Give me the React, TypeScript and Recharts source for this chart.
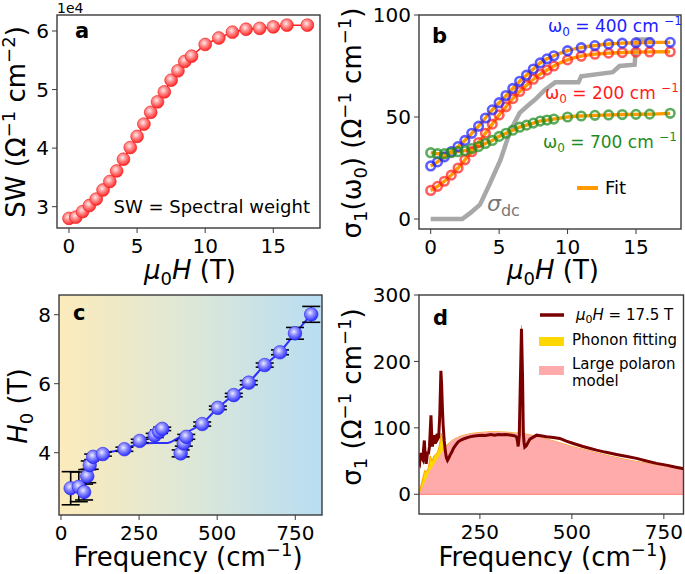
import React from "react";
import {
  ComposedChart,
  Line,
  Scatter,
  Area,
  XAxis,
  YAxis,
  ErrorBar,
  ReferenceArea,
  ReferenceLine,
} from "recharts";

const FONT = "'DejaVu Sans', sans-serif";

// panel a / b : magnetic field (T)
const fieldT = [0, 0.5, 1, 1.5, 2, 2.5, 3, 3.5, 4, 4.5, 5, 5.5, 6, 6.5, 7, 7.5, 8, 8.5, 9, 10, 11, 12, 13, 14, 15, 16, 17.5];
const spectralWeight = [2.8, 2.82, 2.915, 3.02, 3.13, 3.285, 3.43, 3.61, 3.81, 4.01, 4.2, 4.41, 4.61, 4.79, 4.96, 5.16, 5.32, 5.48, 5.57, 5.77, 5.88, 5.98, 6.03, 6.045, 6.07, 6.1, 6.1];

const sigma400 = [26, 28, 30.5, 33, 35.5, 38.5, 42, 45.5, 49.5, 53.5, 57, 60.5, 64, 67.5, 70.5, 73.5, 76.5, 78.5, 80, 82.5, 84, 85, 85.8, 86.2, 86.4, 86.5, 86.6];
const sigma200 = [14, 16, 18.5, 21.5, 25, 29, 33, 37.5, 42, 46.5, 51, 55, 59, 62.5, 65.5, 68.5, 71, 73, 75, 78, 79.8, 80.8, 81.3, 81.6, 81.8, 81.9, 82];
const sigma700 = [32.5, 32, 32, 32.5, 33, 33.5, 34.5, 35.5, 37, 38.5, 40.5, 42, 43.5, 45, 46, 47, 48, 48.5, 49, 50, 50.5, 50.8, 51, 51.2, 51.3, 51.4, 51.8];

const sdcField = [0, 2.3, 2.9, 3.6, 4.3, 5.1, 5.8, 6.5, 7.0, 7.7, 8.3, 8.7, 9.1, 10.8, 11.0, 13.3, 13.8, 14.9, 15.05, 16.2];
const sdcValue = [0, 0, 3, 7, 17, 29, 43, 52, 55, 59, 63, 65, 67, 67, 70, 72, 75, 75.6, 88, 88];

// panel c : H0 vs frequency
const freqC = [31, 57, 74, 84, 92, 103, 134, 203, 252, 300, 314, 324, 383, 393, 401, 452, 502, 553, 601, 652, 701, 749, 801];
const h0C = [2.97, 3.01, 2.86, 3.32, 3.64, 3.88, 3.96, 4.1, 4.34, 4.5, 4.61, 4.69, 3.98, 4.27, 4.46, 4.83, 5.3, 5.67, 6.03, 6.54, 6.91, 7.46, 8.01];
const h0Err = [0.48, 0.43, 0.23, 0.19, 0.12, 0.08, 0.06, 0.06, 0.05, 0.06, 0.05, 0.05, 0.1, 0.08, 0.07, 0.06, 0.05, 0.05, 0.06, 0.06, 0.07, 0.17, 0.23];
const fitFreqC = [72, 80, 88, 96, 105, 130, 200, 250, 300, 340, 370, 400, 450, 500, 550, 600, 650, 700, 750, 800];
const fitH0C = [2.85, 3.15, 3.5, 3.78, 3.9, 3.97, 4.1, 4.25, 4.28, 4.28, 4.4, 4.58, 4.83, 5.28, 5.66, 6.03, 6.52, 6.91, 7.46, 8.0];

// panel d : optical conductivity at 17.5 T
const measFreq = [84, 86, 88, 90, 92, 95, 97, 99, 101, 104, 106, 108, 110, 113, 115, 117, 119, 121, 123, 125, 127, 129, 131, 134, 136, 138, 141, 144, 146, 148, 150, 153, 156, 159, 162, 165, 169, 174, 178, 184, 191, 200, 209, 220, 231, 240, 255, 265, 280, 290, 300, 310, 320, 336, 345, 350, 352, 354, 357, 360, 363, 366, 368, 370, 372, 376, 380, 386, 395, 404, 415, 431, 450, 467, 485, 504, 530, 550, 567, 590, 621, 650, 676, 700, 730, 760, 780, 804];
const measSigma = [48, 46, 58, 62, 55, 52, 68, 81, 60, 46, 55, 64, 60, 72, 95, 119, 90, 72, 80, 89, 82, 76, 85, 91, 84, 86, 120, 186, 165, 131, 105, 81, 65, 55, 51, 54, 59, 64, 69, 74, 79, 82, 84, 86, 87.5, 88, 89, 88.5, 90, 89, 90, 89.5, 90, 89, 88, 86, 80, 72, 88, 170, 249, 175, 92, 78, 71, 73, 77, 83, 86, 89, 88, 86.5, 85.5, 84, 80, 76.5, 72, 69, 66.5, 63.5, 60, 57, 54, 50.5, 46.5, 43.5, 41, 38.5];
const fitFreqD = [84, 90, 100, 105, 110, 115, 120, 125, 130, 135, 140, 145, 150, 155, 160, 170, 180, 200, 225, 250, 275, 300, 325, 350, 356, 360, 363, 366, 370, 375, 400, 425, 450, 500, 550, 600, 650, 700, 750, 804];
const polaronFit = [0, 6, 18, 24, 31, 36, 40, 45, 49, 54, 58, 62, 66, 69, 73, 79, 83, 88, 91.5, 93, 94, 94, 93.5, 92, 91.7, 91.4, 91.2, 91, 90.7, 90.3, 88, 84, 80.5, 72, 65, 58, 52, 47, 42, 37];
const phononFit = [0, 14, 36, 34, 40, 58, 50, 58, 60, 64, 74, 92, 82, 72, 74, 79, 83, 88, 91.5, 93, 94, 94, 93.5, 92, 93, 130, 254, 130, 92, 90.5, 88, 84, 80.5, 72, 65, 58, 52, 47, 42, 37];

const dataA = fieldT.map((x, i) => ({ x, y: spectralWeight[i] }));
const data400 = fieldT.map((x, i) => ({ x, y: sigma400[i] }));
const data200 = fieldT.map((x, i) => ({ x, y: sigma200[i] }));
const data700 = fieldT.map((x, i) => ({ x, y: sigma700[i] }));
const dataSdc = sdcField.map((x, i) => ({ x, y: sdcValue[i] }));
const dataC = freqC.map((x, i) => ({ x, y: h0C[i], err: h0Err[i] }));
const dataCFit = fitFreqC.map((x, i) => ({ x, y: fitH0C[i] }));
const dataMeas = measFreq.map((x, i) => ({ x, y: measSigma[i] }));
const dataDFit = fitFreqD.map((x, i) => ({ x, polaron: polaronFit[i], phonon: phononFit[i] }));

const tickFont = { fill: "#000", fontSize: 20, fontFamily: FONT };
const SPINE = "#3a3a3a";

const redSphere = (p: any) => (
  <circle key={`r${p.index}`} cx={p.cx} cy={p.cy} r={6.4} fill="url(#sphR)" stroke="#f01818" strokeWidth={0.6} />
);
const blueSphere = (p: any) => (
  <circle cx={p.cx} cy={p.cy} r={6.8} fill="url(#sphB)" stroke="#2a2af0" strokeWidth={0.6} />
);
const ring = (color: string) => (p: any) => (
  <circle cx={p.cx} cy={p.cy} r={4.3} fill="none" stroke={color} strokeOpacity={0.72} strokeWidth={2.6} />
);

export default function App() {
  return (
    <div style={{ position: "absolute", left: 0, top: 0, width: 685, height: 574, background: "#fff", overflow: "hidden" }}>
      {/* a */}
      <div style={{ position: "absolute", left: 0, top: 0 }}>
        <ComposedChart width={330} height={285} margin={{ top: 15, right: 10, bottom: 0, left: 0 }}>
          <defs>
            <radialGradient id="sphR" cx="0.42" cy="0.38" r="0.62">
              <stop offset="0" stopColor="#ffeaea" />
              <stop offset="0.45" stopColor="#ff8a8a" />
              <stop offset="1" stopColor="#ff2626" />
            </radialGradient>
          </defs>
          <XAxis type="number" dataKey="x" domain={[-0.88, 18.43]} ticks={[0, 5, 10, 15]} allowDataOverflow height={57} tickSize={5} tickMargin={6} stroke={SPINE} axisLine={false} interval={0} tick={tickFont} />
          <YAxis type="number" domain={[2.636, 6.273]} ticks={[3, 4, 5, 6]} allowDataOverflow width={57} tickSize={5} tickMargin={3} stroke={SPINE} axisLine={false} interval={0} tick={tickFont} />
          <Line data={dataA} dataKey="y" stroke="#ff2020" strokeWidth={1.5} dot={redSphere} activeDot={false} isAnimationActive={false} />
        </ComposedChart>
      </div>

      {/* b */}
      <div style={{ position: "absolute", left: 362, top: 0 }}>
        <ComposedChart width={323} height={285} margin={{ top: 15, right: 4, bottom: 0, left: 0 }}>
          <XAxis type="number" dataKey="x" domain={[-0.855, 18.29]} ticks={[0, 5, 10, 15]} allowDataOverflow height={56} tickSize={5} tickMargin={6} stroke={SPINE} axisLine={false} interval={0} tick={tickFont} />
          <YAxis type="number" domain={[-4.9, 100]} ticks={[0, 50, 100]} allowDataOverflow width={57} tickSize={5} tickMargin={3} stroke={SPINE} axisLine={false} interval={0} tick={tickFont} />
          <Line data={dataSdc} dataKey="y" type="linear" stroke="#a8a8a8" strokeWidth={4.5} dot={false} activeDot={false} isAnimationActive={false} />
          <Scatter data={data200} dataKey="y" shape={ring("#ff2020")} isAnimationActive={false} />
          <Scatter data={data400} dataKey="y" shape={ring("#2020ff")} isAnimationActive={false} />
          <Scatter data={data700} dataKey="y" shape={ring("#1e8c1e")} isAnimationActive={false} />
          <Line data={data200} dataKey="y" type="monotone" stroke="#ff9a00" strokeWidth={3.4} dot={false} activeDot={false} isAnimationActive={false} />
          <Line data={data400} dataKey="y" type="monotone" stroke="#ff9a00" strokeWidth={3.4} dot={false} activeDot={false} isAnimationActive={false} />
          <Line data={data700} dataKey="y" type="monotone" stroke="#ff9a00" strokeWidth={3.4} dot={false} activeDot={false} isAnimationActive={false} />
        </ComposedChart>
      </div>

      {/* c */}
      <div style={{ position: "absolute", left: 0, top: 280 }}>
        <ComposedChart width={330} height={294} margin={{ top: 15, right: 8, bottom: 0, left: 0 }}>
          <defs>
            <linearGradient id="bgC" x1="0" y1="0" x2="1" y2="0">
              <stop offset="0" stopColor="#fcebbb" />
              <stop offset="0.5" stopColor="#dde7d7" />
              <stop offset="1" stopColor="#b8ddf3" />
            </linearGradient>
            <radialGradient id="sphB" cx="0.42" cy="0.38" r="0.62">
              <stop offset="0" stopColor="#ececff" />
              <stop offset="0.45" stopColor="#8a8aff" />
              <stop offset="1" stopColor="#2c2cff" />
            </radialGradient>
          </defs>
          <XAxis type="number" dataKey="x" domain={[-6.4, 835.5]} ticks={[0, 250, 500, 750]} allowDataOverflow height={59} tickSize={5} tickMargin={6} stroke={SPINE} axisLine={false} interval={0} tick={tickFont} />
          <YAxis type="number" domain={[2.194, 8.571]} ticks={[4, 6, 8]} allowDataOverflow width={59} tickSize={5} tickMargin={3} stroke={SPINE} axisLine={false} interval={0} tick={tickFont} />
          <ReferenceArea x1={-6.4} x2={835.5} y1={2.194} y2={8.571} fill="url(#bgC)" fillOpacity={1} stroke="none" />
          <Line data={dataCFit} dataKey="y" type="monotone" stroke="#2e2eff" strokeWidth={2} dot={false} activeDot={false} isAnimationActive={false} />
          <Scatter data={dataC} dataKey="y" shape={blueSphere} isAnimationActive={false}>
            <ErrorBar dataKey="err" direction="y" width={9} stroke="#000" strokeWidth={1.6} />
          </Scatter>
        </ComposedChart>
      </div>

      {/* d */}
      <div style={{ position: "absolute", left: 362, top: 280 }}>
        <ComposedChart width={323} height={294} data={dataDFit} margin={{ top: 15, right: 1.5, bottom: 0, left: 0 }}>
          <XAxis type="number" dataKey="x" domain={[84.5, 803.4]} ticks={[250, 500, 750]} allowDataOverflow height={60} tickSize={5} tickMargin={6} stroke={SPINE} axisLine={false} interval={0} tick={tickFont} />
          <YAxis type="number" domain={[-29.7, 300]} ticks={[0, 100, 200, 300]} allowDataOverflow width={57} tickSize={5} tickMargin={3} stroke={SPINE} axisLine={false} interval={0} tick={tickFont} />
          <Area dataKey="phonon" type="linear" baseValue={0} fill="#ffd700" fillOpacity={1} stroke="#ffa200" strokeWidth={1} isAnimationActive={false} />
          <Area dataKey="polaron" type="linear" baseValue={0} fill="#ffabab" fillOpacity={1} stroke="none" isAnimationActive={false} />
          <ReferenceLine y={0} stroke="#ff7b7b" strokeWidth={1} />
          <Line data={dataMeas} dataKey="y" type="linear" stroke="#7a0000" strokeWidth={3} dot={false} activeDot={false} isAnimationActive={false} />
        </ComposedChart>
      </div>

      {/* frames and text */}
      <svg width={685} height={574} style={{ position: "absolute", left: 0, top: 0, pointerEvents: "none" }} fontFamily={FONT}>
        <g fill="none" stroke={SPINE} strokeWidth={1.4}>
          <rect x={57} y={15} width={263} height={213} />
          <rect x={419} y={15} width={262} height={214} />
          <rect x={59} y={295} width={263} height={220} />
          <rect x={419} y={295} width={264.5} height={219} />
        </g>

        {/* a */}
        <text x={57} y={13} fontSize={14}>1e4</text>
        <text x={75} y={38} fontSize={21} fontWeight="bold">a</text>
        <text x={310} y={213} fontSize={18} textAnchor="end">SW = Spectral weight</text>
        <text transform="translate(25,122) rotate(-90)" fontSize={26} textAnchor="middle">
          <tspan>SW (Ω</tspan>
          <tspan dy={-10} fontSize={18}>−1</tspan>
          <tspan dy={10}> cm</tspan>
          <tspan dy={-10} fontSize={18}>−2</tspan>
          <tspan dy={10}>)</tspan>
        </text>
        <text x={190} y={279} fontSize={26} textAnchor="middle">
          <tspan fontStyle="italic">μ</tspan>
          <tspan dy={6} fontSize={18}>0</tspan>
          <tspan dy={-6} fontStyle="italic">H</tspan>
          <tspan> (T)</tspan>
        </text>

        {/* b */}
        <text x={432} y={43} fontSize={21} fontWeight="bold">b</text>
        <text transform="translate(361,123) rotate(-90)" fontSize={26} textAnchor="middle">
          <tspan>σ</tspan>
          <tspan dy={6} fontSize={18}>1</tspan>
          <tspan dy={-6}>(ω</tspan>
          <tspan dy={6} fontSize={18}>0</tspan>
          <tspan dy={-6}>) (Ω</tspan>
          <tspan dy={-10} fontSize={18}>−1</tspan>
          <tspan dy={10}> cm</tspan>
          <tspan dy={-10} fontSize={18}>−1</tspan>
          <tspan dy={10}>)</tspan>
        </text>
        <text x={553} y={279} fontSize={26} textAnchor="middle">
          <tspan fontStyle="italic">μ</tspan>
          <tspan dy={6} fontSize={18}>0</tspan>
          <tspan dy={-6} fontStyle="italic">H</tspan>
          <tspan> (T)</tspan>
        </text>
        <text x={548} y={32} fontSize={17} fill="#2020ff">
          <tspan>ω</tspan>
          <tspan dy={4} fontSize={12}>0</tspan>
          <tspan dy={-4}> = 400 cm </tspan>
          <tspan dy={-7} fontSize={12}>−1</tspan>
        </text>
        <text x={545} y={99} fontSize={17} fill="#ff1c1c">
          <tspan>ω</tspan>
          <tspan dy={4} fontSize={12}>0</tspan>
          <tspan dy={-4}> = 200 cm </tspan>
          <tspan dy={-7} fontSize={12}>−1</tspan>
        </text>
        <text x={543} y={148} fontSize={17} fill="#1e8c1e">
          <tspan>ω</tspan>
          <tspan dy={4} fontSize={12}>0</tspan>
          <tspan dy={-4}> = 700 cm </tspan>
          <tspan dy={-7} fontSize={12}>−1</tspan>
        </text>
        <line x1={577} x2={598} y1={188} y2={188} stroke="#ff9a00" strokeWidth={4} />
        <text x={605} y={194} fontSize={18}>Fit</text>
        <text x={487} y={211} fontSize={22} fill="#777">
          <tspan fontStyle="italic">σ</tspan>
          <tspan dy={5} fontSize={16}>dc</tspan>
        </text>

        {/* c */}
        <text x={73} y={320} fontSize={21} fontWeight="bold">c</text>
        <text transform="translate(27,406) rotate(-90)" fontSize={26} textAnchor="middle">
          <tspan fontStyle="italic">H</tspan>
          <tspan dy={6} fontSize={18}>0</tspan>
          <tspan dy={-6}> (T)</tspan>
        </text>
        <text x={188} y={566} fontSize={26} textAnchor="middle">
          <tspan>Frequency (cm</tspan>
          <tspan dy={-10} fontSize={18}>−1</tspan>
          <tspan dy={10}>)</tspan>
        </text>

        {/* d */}
        <text x={433} y={325} fontSize={21} fontWeight="bold">d</text>
        <text transform="translate(361,397) rotate(-90)" fontSize={26} textAnchor="middle">
          <tspan>σ</tspan>
          <tspan dy={6} fontSize={18}>1</tspan>
          <tspan dy={-6}> (Ω</tspan>
          <tspan dy={-10} fontSize={18}>−1</tspan>
          <tspan dy={10}> cm</tspan>
          <tspan dy={-10} fontSize={18}>−1</tspan>
          <tspan dy={10}>)</tspan>
        </text>
        <text x={553} y={566} fontSize={26} textAnchor="middle">
          <tspan>Frequency (cm</tspan>
          <tspan dy={-10} fontSize={18}>−1</tspan>
          <tspan dy={10}>)</tspan>
        </text>
        <line x1={540} x2={564} y1={315} y2={315} stroke="#7a0000" strokeWidth={3.5} />
        <text x={576} y={320} fontSize={15}>
          <tspan fontStyle="italic">μ</tspan>
          <tspan dy={3} fontSize={11}>0</tspan>
          <tspan dy={-3} fontStyle="italic">H</tspan>
          <tspan> = 17.5 T</tspan>
        </text>
        <rect x={539} y={337} width={25} height={9} fill="#ffd700" />
        <text x={572} y={345} fontSize={15}>Phonon fitting</text>
        <rect x={539} y={366} width={25} height={9} fill="#ffabab" />
        <text x={572} y={369} fontSize={15}>Large polaron</text>
        <text x={572} y={386} fontSize={15}>model</text>
      </svg>
    </div>
  );
}
